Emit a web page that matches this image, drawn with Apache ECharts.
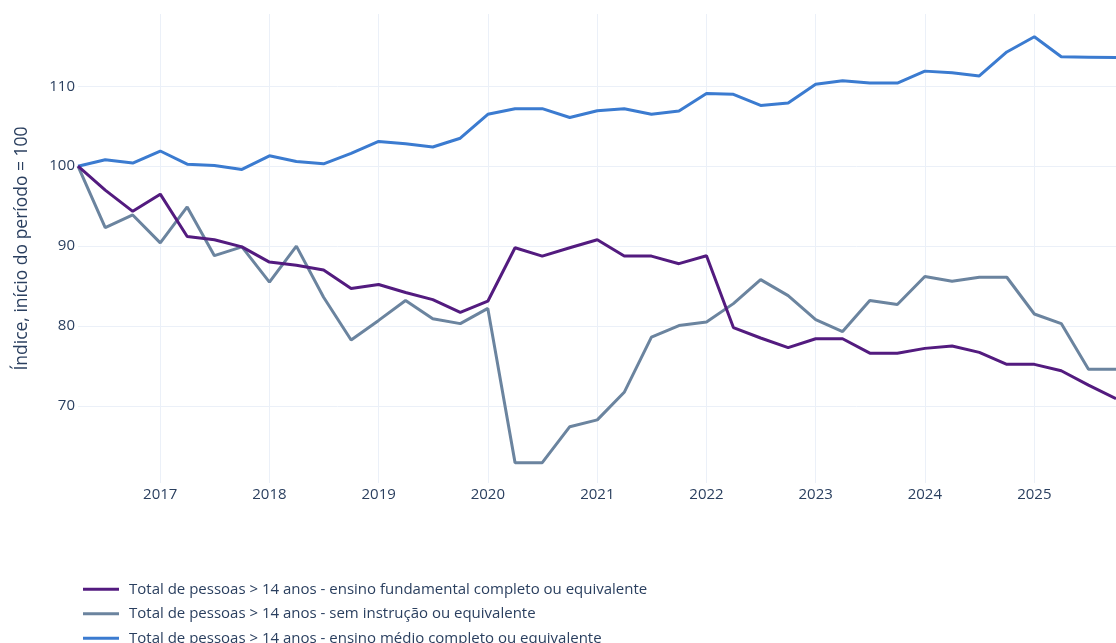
<!DOCTYPE html>
<html>
<head>
<meta charset="utf-8">
<script src="https://cdn.jsdelivr.net/npm/echarts@6/dist/echarts.min.js"></script>
<style>
html,body{margin:0;padding:0;background:#fff;}
#chart{width:1116px;height:643px;}
</style>
</head>
<body>
<div id="chart"></div>
<script>
const dates = [
  '2016-04-01','2016-07-01','2016-10-01',
  '2017-01-01','2017-04-01','2017-07-01','2017-10-01',
  '2018-01-01','2018-04-01','2018-07-01','2018-10-01',
  '2019-01-01','2019-04-01','2019-07-01','2019-10-01',
  '2020-01-01','2020-04-01','2020-07-01','2020-10-01',
  '2021-01-01','2021-04-01','2021-07-01','2021-10-01',
  '2022-01-01','2022-04-01','2022-07-01','2022-10-01',
  '2023-01-01','2023-04-01','2023-07-01','2023-10-01',
  '2024-01-01','2024-04-01','2024-07-01','2024-10-01',
  '2025-01-01','2025-04-01','2025-07-01','2025-10-01'
];
const seriesNames = [
  'Total de pessoas > 14 anos - ensino fundamental completo ou equivalente',
  'Total de pessoas > 14 anos - sem instrução ou equivalente',
  'Total de pessoas > 14 anos - ensino médio completo ou equivalente'
];
const fundamental = [100, 97.0, 94.35, 96.5, 91.2, 90.8, 89.9, 88.0, 87.6, 87.0, 84.7, 85.2, 84.2, 83.3, 81.7, 83.1, 89.8, 88.75, 89.8, 90.8, 88.75, 88.75, 87.8, 88.8, 79.8, 78.5, 77.3, 78.4, 78.4, 76.6, 76.6, 77.2, 77.5, 76.7, 75.2, 75.2, 74.4, 72.6, 70.9];
const semInstrucao = [100, 92.3, 93.9, 90.4, 94.9, 88.8, 89.9, 85.5, 90.0, 83.6, 78.25, 80.7, 83.2, 80.9, 80.3, 82.2, 62.9, 62.9, 67.4, 68.25, 71.7, 78.6, 80.05, 80.5, 82.8, 85.8, 83.8, 80.8, 79.3, 83.2, 82.7, 86.2, 85.6, 86.1, 86.1, 81.5, 80.3, 74.6, 74.6];
const medio = [100, 100.8, 100.4, 101.9, 100.25, 100.1, 99.6, 101.3, 100.6, 100.3, 101.6, 103.1, 102.8, 102.4, 103.5, 106.5, 107.2, 107.2, 106.1, 106.95, 107.2, 106.5, 106.9, 109.1, 109.0, 107.6, 107.9, 110.25, 110.7, 110.4, 110.4, 111.9, 111.7, 111.3, 114.3, 116.2, 113.7, 113.65, 113.6];
const colors = ['#531b7f', '#6b849f', '#3b7bd0'];
const yTitle = 'Índice, início do período = 100';

const pairs = arr => arr.map((v, i) => [dates[i], v]);
const allSeries = [fundamental, semInstrucao, medio];

const chart = echarts.init(document.getElementById('chart'));
const font = '"Open Sans", verdana, arial, sans-serif';
chart.setOption({
  animation: false,
  textStyle: { fontFamily: font },
  grid: { left: 78, right: -7, top: 14, bottom: 160, containLabel: false },
  xAxis: {
    type: 'time',
    min: dates[0],
    max: dates[dates.length - 1],
    splitNumber: 9,
    minInterval: 365 * 24 * 3600 * 1000,
    axisLine: { show: false },
    axisTick: { show: false },
    axisLabel: {
      formatter: '{yyyy}',
      color: '#2a3f5f',
      fontSize: 15,
      fontFamily: font,
      margin: 4,
      showMinLabel: false,
      showMaxLabel: false
    },
    splitLine: { show: true, showMinLine: false, showMaxLine: false, lineStyle: { color: '#ebf0f8', width: 1 } }
  },
  yAxis: {
    type: 'value',
    min: 60.35,
    max: 119.05,
    splitNumber: 5,
    name: yTitle,
    nameLocation: 'middle',
    nameGap: 47,
    nameTextStyle: { color: '#2a3f5f', fontSize: 17.5, fontFamily: font },
    axisLine: { show: false },
    axisTick: { show: false },
    axisLabel: {
      color: '#2a3f5f', fontSize: 15, fontFamily: font, margin: 3,
      showMinLabel: false, showMaxLabel: false
    },
    splitLine: { show: true, showMinLine: false, showMaxLine: false, lineStyle: { color: '#ebf0f8', width: 1 } }
  },
  legend: {
    orient: 'vertical',
    left: 78,
    top: 575,
    height: 150,
    itemWidth: 36,
    itemHeight: 3,
    itemGap: 6,
    icon: 'rect',
    textStyle: { color: '#2a3f5f', fontSize: 15, fontFamily: font, lineHeight: 18.5, padding: [0, 0, 0, 5] },
    data: seriesNames
  },
  series: allSeries.map((arr, i) => ({
    name: seriesNames[i],
    type: 'line',
    data: pairs(arr),
    showSymbol: false,
    symbol: 'none',
    lineStyle: { color: colors[i], width: 3 },
    itemStyle: { color: colors[i] },
    z: 3 - i
  }))
});
</script>
</body>
</html>
